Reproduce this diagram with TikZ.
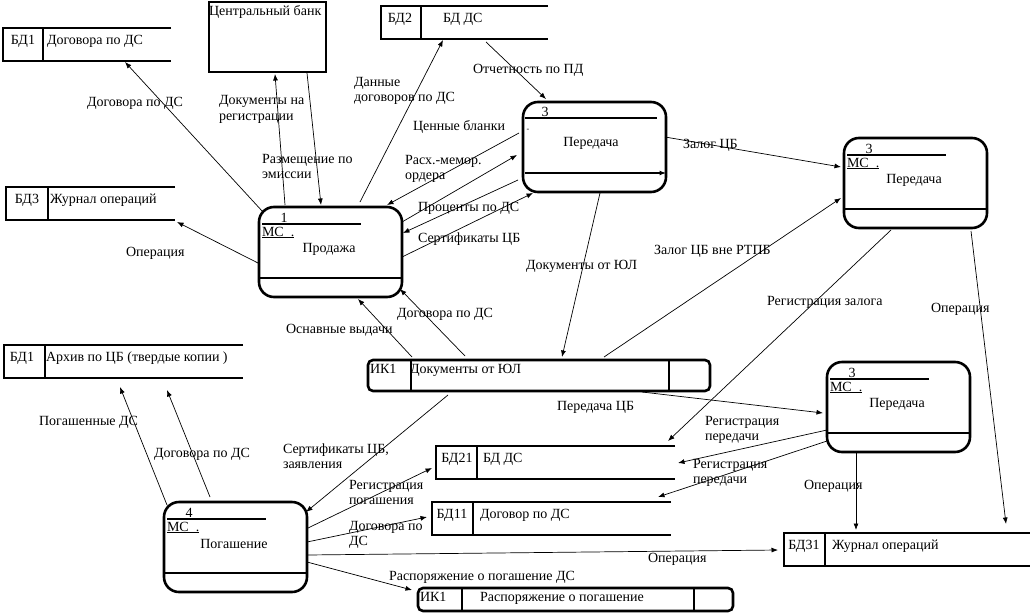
\documentclass[tikz,border=0pt]{standalone}
\usepackage{fontspec}
\setmainfont{Liberation Serif}
\usetikzlibrary{arrows.meta}
\usetikzlibrary{calc}
\usetikzlibrary{positioning}

\begin{document}
\begin{tikzpicture}[x=1pt, y=-1pt,
  font=\fontsize{14}{15.5}\selectfont,
  every node/.style={inner sep=0pt, outer sep=0pt},
  proc/.style={draw, line width=2.6pt, rounded corners=15pt, minimum width=143pt, minimum height=90pt, anchor=north west},
  ext/.style={draw, line width=2.6pt, anchor=north west},
  ikbox/.style={draw, line width=2.6pt, rounded corners=5pt, anchor=north west},
  store/.style={minimum height=33pt, anchor=north west},
  wall/.style={line width=2.6pt},
  sep/.style={line width=1.1pt},
  flow/.style={line width=0.7pt, -{Latex[length=6.5pt, width=5pt]}},
  lbl/.style={anchor=west, align=left, yshift=-1.5pt}]
\useasboundingbox (0,0) rectangle (1030,613);

% External entity
\node[ext, minimum width=117pt, minimum height=70pt] (cb) at (209,2) {};
\node[anchor=base west] (cbn) at ([shift={(0,14)}]cb.north west) {Центральный банк};

% Processes (number, MC, name)
\foreach \n/\x/\y/\num/\name in {p1/259/207/1/Продажа, pr/844/138/3/Передача, pq/827/362/3/Передача, p4/164/502/4/Погашение}{
  \node[proc] (\n) at (\x,\y) {};
  \draw[sep] ([shift={(3,17)}]\n.north west) -- ([shift={(102,17)}]\n.north west);
  \node[anchor=base] (\n-no) at ([shift={(25,15)}]\n.north west) {\num};
  \node[anchor=base west] (\n-ms) at ([shift={(3,29)}]\n.north west) {\underline{МС\ \ .}};
  \node (\n-t) at ([shift={(70,42)}]\n.north west) {\name};
  \draw[sep] ([shift={(0,71)}]\n.north west) -- ([shift={(0,71)}]\n.north east);
}

% Process 3 at the top
\node[proc] (pt) at (523,102) {};
\draw[sep] ([shift={(2,16)}]pt.north west) -- ([shift={(134,16)}]pt.north west);
\node[anchor=base] (pt-no) at ([shift={(22,14)}]pt.north west) {3};
\node[anchor=base] (pt-m) at ([shift={(5,29)}]pt.north west) {\fontsize{8}{8}\selectfont -};
\node (pt-t) at ([shift={(68,41)}]pt.north west) {Передача};
\draw[sep, -{Latex[length=6.5pt, width=5pt]}] ([shift={(2,71)}]pt.north west) -- ([shift={(0,71)}]pt.north east);

% Data stores (open on the right)
\foreach \n/\x/\y/\w/\d/\id/\ix/\tx/\name in {
    bd1/3/28/168/40/БД1/20/44/Договора по ДС,
    bd2/381/6/167/40/БД2/19/62/БД ДС,
    bd3/6/187/169/42/БД3/21/44/Журнал операций,
    arch/4/345/239/41/БД1/18/42/Архив по ЦБ (твердые копии ),
    bd21/436/446/239/41/БД21/21/47/БД ДС,
    bd11/432/502/239/41/БД11/20/48/Договор по ДС,
    bd31/784/533/246/41/БД31/20/48/Журнал операций}{
  \node[store, minimum width=\w pt] (\n) at (\x,\y) {};
  \draw[wall] (\n.north east) -- (\n.north west) -- (\n.south west) -- (\n.south east);
  \draw[wall] ([shift={(\d,0)}]\n.north west) -- ([shift={(\d,0)}]\n.south west);
  \node[anchor=base] (\n-id) at ([shift={(\ix,16)}]\n.north west) {\id};
  \node[anchor=base west] (\n-n) at ([shift={(\tx,16)}]\n.north west) {\name};
}

% Card files (rounded)
\node[ikbox, minimum width=342pt, minimum height=31pt] (ik1) at (368,360) {};
\draw[wall] ([shift={(43,0)}]ik1.north west) -- ([shift={(43,0)}]ik1.south west);
\draw[wall] ([shift={(301,0)}]ik1.north west) -- ([shift={(301,0)}]ik1.south west);
\node[anchor=base west] (ik1-id) at ([shift={(2,13)}]ik1.north west) {ИК1};
\node[anchor=base west] (ik1-n) at ([shift={(42,13)}]ik1.north west) {Документы от ЮЛ};

\node[ikbox, minimum width=315pt, minimum height=23pt] (ik2) at (418,588) {};
\draw[wall] ([shift={(44,0)}]ik2.north west) -- ([shift={(44,0)}]ik2.south west);
\draw[wall] ([shift={(276,0)}]ik2.north west) -- ([shift={(276,0)}]ik2.south west);
\node[anchor=base west] (ik2-id) at ([shift={(2,13)}]ik2.north west) {ИК1};
\node[anchor=base] (ik2-n) at ([shift={(144,13)}]ik2.north west) {Распоряжение о погашение};

% Flows of process 1
\draw[flow] ([shift={(4,5)}]p1.north west) -- ([shift={(122,1)}]bd1.south west);
\draw[flow] ([shift={(26,-2)}]p1.north west) -- ([shift={(66,2)}]cb.south west);
\draw[flow] ([shift={(98,1)}]cb.south west) -- ([shift={(62,-2)}]p1.north west);
\draw[flow] ([shift={(101,-5)}]p1.north west) -- ([shift={(62,1)}]bd2.south west);
\draw[flow] ([shift={(105,3)}]bd2.south west) -- ([shift={(23,-3)}]pt.north west);
\draw[flow] ([shift={(-4,31)}]pt.north west) -- ([shift={(-15,-2)}]p1.north east);
\draw[flow] ([shift={(0,15)}]p1.north east) -- ([shift={(-6,53)}]pt.north west);
\draw[flow] ([shift={(-5,78)}]pt.north west) -- ([shift={(1,26)}]p1.north east);
\draw[flow] ([shift={(0,50)}]p1.north east) -- ([shift={(10,1)}]pt.south west);
\draw[flow] ([shift={(-1,56)}]p1.north west) -- ([shift={(2,2)}]bd3.south east);

% Flows of the top process 3
\draw[flow] ([shift={(-1,35)}]pt.north east) -- ([shift={(-3,29)}]pr.north west);
\draw[flow] ([shift={(77,1)}]pt.south west) -- ([shift={(194,-3)}]ik1.north west);
\draw[flow] ([shift={(236,-3)}]ik1.north west) -- ([shift={(-3,60)}]pr.north west);
\draw[flow] ([shift={(47,2)}]pr.south west) -- ([shift={(-7,-5)}]bd21.north east);
\draw[flow] ([shift={(-16,3)}]pr.south east) -- ([shift={(222,-9)}]bd31.north west);

% Flows from ИК1
\draw[flow] ([shift={(274,1)}]ik1.south west) -- ([shift={(-4,51)}]pq.north west);
\draw[flow] ([shift={(80,4)}]ik1.south west) -- ([shift={(-1,10)}]p4.north east);
\draw[flow] ([shift={(44,-3)}]ik1.north west) -- ([shift={(99,2)}]p1.south west);
\draw[flow] ([shift={(97,-4)}]ik1.north west) -- ([shift={(-2,-8)}]p1.south east);

% Flows of process 4
\draw[flow] ([shift={(3,3)}]p4.north west) -- ([shift={(116,9)}]arch.south west);
\draw[flow] ([shift={(46,-5)}]p4.north west) -- ([shift={(163,12)}]arch.south west);
\draw[flow] ([shift={(1,26)}]p4.north east) -- ([shift={(-4,22)}]bd21.north west);
\draw[flow] ([shift={(0,40)}]p4.north east) -- ([shift={(-5,15)}]bd11.north west);
\draw[flow] ([shift={(0,53)}]p4.north east) -- ([shift={(-6,17)}]bd31.north west);
\draw[flow] ([shift={(0,60)}]p4.north east) -- ([shift={(-6,2)}]ik2.north west);

% Flows of the lower process 3
\draw[flow] ([shift={(0,68)}]pq.north west) -- ([shift={(3,17)}]bd21.north east);
\draw[flow] ([shift={(0,79)}]pq.north west) -- ([shift={(-13,-5)}]bd11.north east);
\draw[flow] ([shift={(29,1)}]pq.south west) -- ([shift={(72,-3)}]bd31.north west);

% Flow labels
\node[lbl] (l1) at (87,102) {Договора по ДС};
\node[lbl] (l2) at (219,108) {Документы на\\регистрации};
\node[lbl] (l3) at (262,165) {Размещение по\\эмиссии};
\node[lbl] (l4) at (354,89.5) {Данные\\договоров по ДС};
\node[lbl] (l5) at (473,69) {Отчетность по ПД};
\node[lbl] (l6) at (413,125) {Ценные бланки};
\node[lbl] (l7) at (405,167.5) {Расх.-мемор.\\ордера};
\node[lbl] (l8) at (418,207) {Проценты по ДС};
\node[lbl] (l9) at (418,238) {Сертификаты ЦБ};
\node[lbl] (l10) at (683,144) {Залог ЦБ};
\node[lbl] (l11) at (126,252) {Операция};
\node[lbl] (l12) at (526,265) {Документы от ЮЛ};
\node[lbl] (l13) at (654,250) {Залог ЦБ вне РТПБ};
\node[lbl] (l14) at (767,301) {Регистрация залога};
\node[lbl] (l15) at (931,308) {Операция};
\node[lbl] (l16) at (286,329) {Оснавные выдачи};
\node[lbl] (l17) at (397,313) {Договора по ДС};
\node[lbl] (l18) at (557,406) {Передача ЦБ};
\node[lbl] (l19) at (39,421) {Погашенные ДС};
\node[lbl] (l20) at (154,453) {Договора по ДС};
\node[lbl] (l21) at (283,454.5) {Сертификаты ЦБ,\\заявления};
\node[lbl] (l22) at (705,428.5) {Регистрация\\передачи};
\node[lbl] (l23) at (693,471.5) {Регистрация\\передачи};
\node[lbl] (l24) at (349,491) {Регистрация\\погашения};
\node[lbl] (l25) at (349,533.5) {Договора по\\ДС};
\node[lbl] (l26) at (804,485) {Операция};
\node[lbl] (l27) at (648,558) {Операция};
\node[lbl] (l28) at (389,576) {Распоряжение о погашение ДС};
\end{tikzpicture}
\end{document}
